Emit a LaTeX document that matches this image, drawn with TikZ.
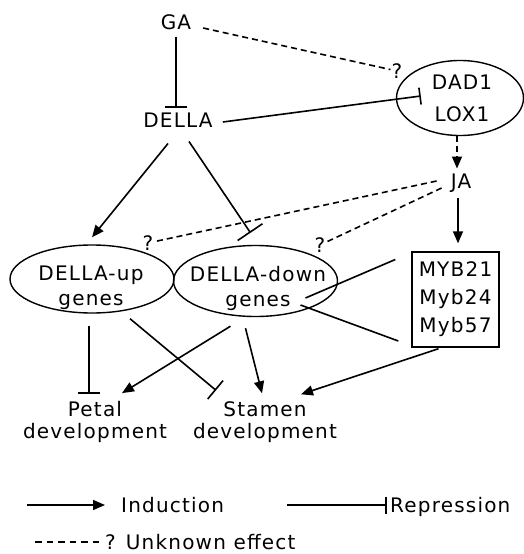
\documentclass[tikz,border=0pt]{standalone}
\usepackage{fontspec}
\setmainfont{DejaVu Sans}[LetterSpace=6]
\usetikzlibrary{arrows.meta,shapes.geometric}

\begin{document}
\begin{tikzpicture}[x=1pt,y=-1pt,
  every node/.style={font=\fontsize{20}{25}\selectfont, inner sep=2pt},
  conn/.style={line width=1.6pt},
  ind/.style={conn,-{Triangle[length=12pt,width=10pt]}},
  rep/.style={conn,-{Bar[width=#1]}}, rep/.default=22pt,
  unk/.style={conn,dash pattern=on 6pt off 4pt},
  unkarrow/.style={unk,-{Triangle[length=12pt,width=10pt]}},
  oval/.style={ellipse, draw, line width=1.4pt, inner sep=0pt},
  qmark/.style={inner sep=1pt}]

\path[fill=white, use as bounding box] (0,0) rectangle (524,554);

% hormones and regulators
\node (GA) at (176,22) {GA};
\node (DELLA) at (178,120) {DELLA};
\node (JA) at (461,183) {JA};

% DAD1 / LOX1
\node[oval, minimum width=127pt, minimum height=75pt] (ell) at (460,98) {};
\node[align=center, font=\fontsize{20}{32}\selectfont] (elltxt) at (462,98) {DAD1\\LOX1};

% gene groups
\node[oval, minimum width=164pt, minimum height=68pt] (up) at (92,279) {};
\node[align=center] (uptxt) at (91,288) {DELLA-up\\genes};
\node[oval, minimum width=164pt, minimum height=71pt] (down) at (255.5,281) {};
\node[align=center] (downtxt) at (258,288) {DELLA-down\\genes};

% MYB transcription factors
\node[draw, line width=1.4pt, minimum width=87pt, minimum height=95pt, align=center,
      font=\fontsize{20}{28}\selectfont] (myb) at (455.5,299.5) {MYB21\\Myb24\\Myb57};

% developmental outputs
\node[align=center, font=\fontsize{20}{22}\selectfont] (petal) at (95,422) {Petal\\development};
\node[align=center, font=\fontsize{20}{22}\selectfont] (stamen) at (265,422) {Stamen\\development};

% unknown-effect marks
\node[qmark] (q1) at (397,71) {?};
\node[qmark] (q2) at (148,243) {?};
\node[qmark] (q3) at (320,245) {?};

% connectors
\draw[rep, shorten <=5pt, shorten >=3pt] (GA.south) -- (GA.south |- DELLA.north);
\draw[unk, shorten <=10pt] (GA) -- (q1);
\draw[rep={17pt}] ([shift={(8,2)}]DELLA.east) -- ([shift={(25,-2)}]ell.west);
\draw[unkarrow, shorten >=3pt] ([xshift=-3pt]ell.south) -- ([xshift=-3pt]ell.south |- JA.north);
\draw[ind, shorten <=4pt, shorten >=8pt] ([xshift=-3pt]JA.south) -- ([xshift=-3pt]JA.south |- myb.north);
\draw[unk] ([shift={(-12,-2)}]JA.west) -- (q2);
\draw[unk] ([shift={(-7,5)}]JA.west) -- (q3);

\draw[ind] ([shift={(-10,14)}]DELLA.south) -- ([shift={(0,-7)}]up.north);
\draw[rep={30pt}] ([shift={(11,12)}]DELLA.south) -- ([shift={(-5,-12)}]down.north);

\draw[rep] ([shift={(-3,12)}]up.south) -- ([shift={(-6,-5.5)}]petal.north);
\draw[rep={24pt}] ([shift={(38,5)}]up.south) -- ([shift={(-49,-9)}]stamen.north);
\draw[ind] ([shift={(-25,9)}]down.south) -- ([shift={(27,-6)}]petal.north);
\draw[ind] ([shift={(-10,11)}]down.south) -- ([shift={(-3,-6)}]stamen.north);
\draw[ind] ([shift={(-17,1)}]myb.south) -- ([shift={(36,-5)}]stamen.north);

\draw[conn] ([shift={(-16,-40)}]myb.west) -- ([shift={(50,17)}]down.center);
\draw[conn] ([shift={(45,24)}]down.center) -- ([shift={(-13,41.5)}]myb.west);

% legend
\coordinate (indA) at (27,505);
\coordinate (indB) at (105,505);
\draw[ind] (indA) -- (indB);
\node[anchor=base west] (indlab) at (119,512) {Induction};

\coordinate (repA) at (287,505);
\coordinate (repB) at (387,505);
\draw[rep={17pt}] (repA) -- (repB);
\node[anchor=base west] (replab) at (388,512) {Repression};

\coordinate (unkA) at (35,542);
\node[anchor=base west, inner sep=0pt] (unklab) at (105,549) {? Unknown effect};
\draw[conn, dash pattern=on 6.5pt off 5pt] (unkA) -- ([xshift=-2pt]unklab.west |- unkA);
\end{tikzpicture}
\end{document}
